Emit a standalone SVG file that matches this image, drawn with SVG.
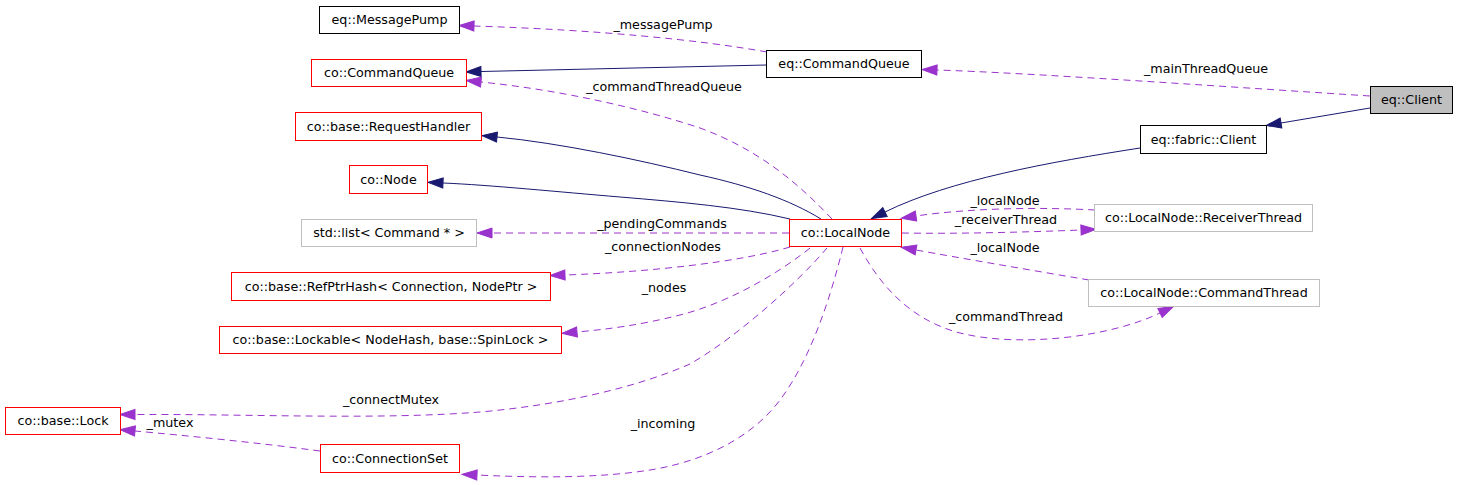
<svg xmlns="http://www.w3.org/2000/svg" width="1459" height="485" viewBox="0 0 1459 485">
<style>
text{font-family:"DejaVu Sans","Liberation Sans",sans-serif;font-size:12.7px;fill:#000}
.n text{text-anchor:middle}
.lbl{text-anchor:middle}
.box{fill:#fff;stroke:#000;stroke-width:1}
.red{fill:#fff;stroke:#ff0000;stroke-width:1}
.grey{fill:#fff;stroke:#bfbfbf;stroke-width:1}
.sel{fill:#bfbfbf;stroke:#000;stroke-width:1}
.dep{fill:none;stroke:#9a32cd;stroke-width:1;stroke-dasharray:7,5;marker-end:url(#ap)}
.inh{fill:none;stroke:#191970;stroke-width:1;marker-end:url(#an)}
</style>
<defs>
<marker id="ap" markerUnits="userSpaceOnUse" markerWidth="15" markerHeight="10" viewBox="0 0 15 10" refX="0" refY="5" orient="auto" overflow="visible"><path d="M0,0 L15,5 L0,10 z" fill="#9a32cd" stroke="#9a32cd" stroke-width="1"/></marker>
<marker id="an" markerUnits="userSpaceOnUse" markerWidth="15" markerHeight="10" viewBox="0 0 15 10" refX="0" refY="5" orient="auto" overflow="visible"><path d="M0,0 L15,5 L0,10 z" fill="#191970" stroke="#191970" stroke-width="1"/></marker>
</defs>
<rect width="1459" height="485" fill="#fff"/>
<g id="edges">
<path class="dep" d="M1370,96 C1200,85 1030,73 937,70"/>
<path class="inh" d="M1370,108 L1281,123"/>
<path class="inh" d="M1140,148 C1050,162 950,180 885,212"/>
<path class="inh" d="M767,65 L481,71.5"/>
<path class="dep" d="M767,52 C700,40 600,30 474,26"/>
<path class="dep" d="M832,219 C800,185 760,150 700,128 C640,108 560,90 481,82"/>
<path class="inh" d="M821,219 C790,200 750,186 700,175 C640,160 560,143 497,137"/>
<path class="inh" d="M790,219 C740,207 680,202 620,197 C560,192 490,185 443,183"/>
<path class="dep" d="M789,233 L492,233"/>
<path class="dep" d="M790,247 C740,262 650,272 565,275"/>
<path class="dep" d="M810,248 C770,280 720,305 680,315 C640,325 610,329 577,332"/>
<path class="dep" d="M827,248 C800,280 740,335 690,364 C635,388 560,405 480,412 C380,420 250,414 135,414.5"/>
<path class="dep" d="M320,451 C260,443 190,436 135,431"/>
<path class="dep" d="M843,247 C830,300 810,360 780,400 C750,440 700,462 650,470 C600,478 540,478 477,475"/>
<path class="dep" d="M902,233 C960,234 1030,232 1081,230"/>
<path class="dep" d="M1095,210 C1040,207 970,208 916,216"/>
<path class="dep" d="M1089,280 C1030,270 960,258 916,250"/>
<path class="dep" d="M860,248 C880,285 910,320 960,333 C1020,348 1110,337 1160,313"/>
<text class="lbl" x="663" y="29">_messagePump</text>
<text class="lbl" x="664" y="91">_commandThreadQueue</text>
<text class="lbl" x="1206" y="73">_mainThreadQueue</text>
<text class="lbl" x="662" y="228">_pendingCommands</text>
<text class="lbl" x="663" y="251">_connectionNodes</text>
<text class="lbl" x="664" y="292">_nodes</text>
<text class="lbl" x="391" y="404">_connectMutex</text>
<text class="lbl" x="170" y="427">_mutex</text>
<text class="lbl" x="663" y="428">_incoming</text>
<text class="lbl" x="1005" y="205">_localNode</text>
<text class="lbl" x="1006" y="224">_receiverThread</text>
<text class="lbl" x="1005" y="252">_localNode</text>
<text class="lbl" x="1006" y="321">_commandThread</text>
</g>
<g id="n_eqClient" class="n"><rect class="sel" x="1370.5" y="86.5" width="82" height="27"/><text x="1411.5" y="104">eq::Client</text></g>
<g id="n_fabricClient" class="n"><rect class="box" x="1140.5" y="125.5" width="126" height="28"/><text x="1203.5" y="144">eq::fabric::Client</text></g>
<g id="n_eqCommandQueue" class="n"><rect class="box" x="766.5" y="50.5" width="155" height="27"/><text x="844" y="68">eq::CommandQueue</text></g>
<g id="n_messagePump" class="n"><rect class="box" x="319.5" y="6.5" width="140" height="27"/><text x="389.5" y="24">eq::MessagePump</text></g>
<g id="n_coCommandQueue" class="n"><rect class="red" x="311.5" y="59.5" width="155" height="27"/><text x="389" y="77">co::CommandQueue</text></g>
<g id="n_requestHandler" class="n"><rect class="red" x="295.5" y="112.5" width="186" height="28"/><text x="388.5" y="131">co::base::RequestHandler</text></g>
<g id="n_coNode" class="n"><rect class="red" x="349.5" y="165.5" width="78" height="28"/><text x="388.5" y="184">co::Node</text></g>
<g id="n_stdList" class="n"><rect class="grey" x="301.5" y="219.5" width="175" height="27"/><text x="389" y="237">std::list&lt; Command * &gt;</text></g>
<g id="n_localNode" class="n"><rect class="red" x="789.5" y="219.5" width="112" height="27"/><text x="845.5" y="237">co::LocalNode</text></g>
<g id="n_receiverThread" class="n"><rect class="grey" x="1094.5" y="204.5" width="218" height="27"/><text x="1203.5" y="222">co::LocalNode::ReceiverThread</text></g>
<g id="n_commandThread" class="n"><rect class="grey" x="1088.5" y="279.5" width="231" height="27"/><text x="1204" y="297">co::LocalNode::CommandThread</text></g>
<g id="n_refPtrHash" class="n"><rect class="red" x="231.5" y="272.5" width="319" height="28"/><text x="391" y="291">co::base::RefPtrHash&lt; Connection, NodePtr &gt;</text></g>
<g id="n_lockable" class="n"><rect class="red" x="219.5" y="326.5" width="342" height="27"/><text x="390.5" y="344">co::base::Lockable&lt; NodeHash, base::SpinLock &gt;</text></g>
<g id="n_lock" class="n"><rect class="red" x="5.5" y="407.5" width="115" height="27"/><text x="63" y="425">co::base::Lock</text></g>
<g id="n_connectionSet" class="n"><rect class="red" x="320.5" y="444.5" width="139" height="28"/><text x="390" y="463">co::ConnectionSet</text></g>
</svg>
